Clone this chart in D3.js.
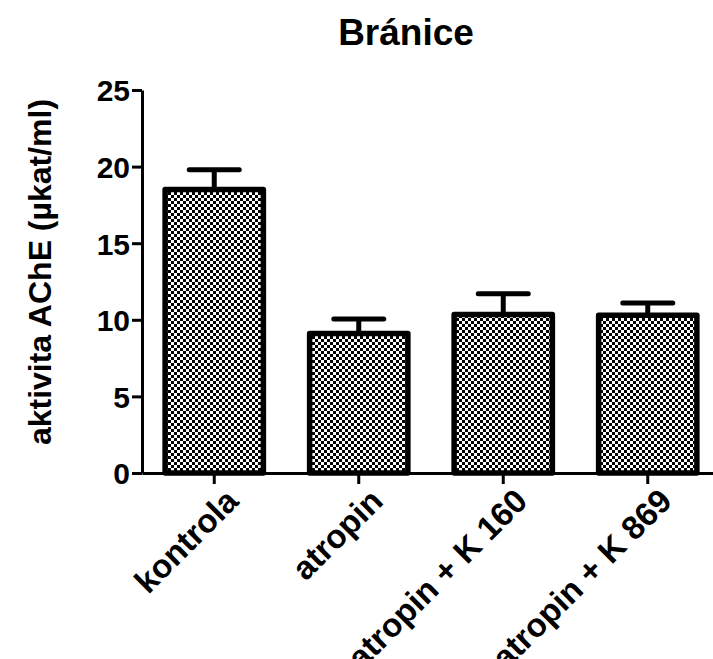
<!DOCTYPE html>
<html>
<head>
<meta charset="utf-8">
<script src="https://cdn.jsdelivr.net/npm/d3@7"></script>
<style>
  html, body { margin: 0; padding: 0; background: #fff; }
  svg { display: block; }
  text { font-family: "Liberation Sans", Arial, sans-serif; font-weight: bold; fill: #000; }
</style>
</head>
<body>
<script>
const categories = ["kontrola", "atropin", "atropin + K 160", "atropin + K 869"];
const means = [18.5, 9.1, 10.35, 10.3];
const errUp = [1.3, 0.95, 1.35, 0.8];
const yTicks = [0, 5, 10, 15, 20, 25];
const title = "Bránice";
const yTitle = "aktivita AChE (\u00B5kat/ml)";

const W = 713, H = 659;
const svg = d3.select("body").append("svg").attr("width", W).attr("height", H);

const defs = svg.append("defs");
const pat = defs.append("pattern").attr("id", "checker")
  .attr("patternUnits", "userSpaceOnUse").attr("width", 6).attr("height", 6);
pat.append("rect").attr("width", 6).attr("height", 6).attr("fill", "#fff");
pat.append("rect").attr("x", 0).attr("y", 0).attr("width", 3).attr("height", 3).attr("fill", "#000");
pat.append("rect").attr("x", 3).attr("y", 3).attr("width", 3).attr("height", 3).attr("fill", "#000");

const y = d3.scaleLinear().domain([0, 25]).range([473, 90]);
const x = d3.scaleBand().domain(categories).range([142, 720]).paddingInner(0.32).paddingOuter(0.16);

// title
svg.append("text").attr("x", 406).attr("y", 45).attr("text-anchor", "middle")
  .style("font-size", "37px").text(title);

// y title
svg.append("text").attr("transform", "translate(51,272) rotate(-90)")
  .attr("text-anchor", "middle").style("font-size", "32px").text(yTitle);

const data = categories.map((c, i) => ({ c, m: means[i], e: errUp[i] }));

// error bars
const eg = svg.append("g");
eg.selectAll("line.v").data(data).join("line")
  .attr("x1", d => x(d.c) + x.bandwidth() / 2).attr("x2", d => x(d.c) + x.bandwidth() / 2)
  .attr("y1", d => y(d.m)).attr("y2", d => y(d.m + d.e))
  .attr("stroke", "#000").attr("stroke-width", 5);
eg.selectAll("line.h").data(data).join("line")
  .attr("x1", d => x(d.c) + x.bandwidth() / 2 - 25).attr("x2", d => x(d.c) + x.bandwidth() / 2 + 25)
  .attr("y1", d => y(d.m + d.e)).attr("y2", d => y(d.m + d.e))
  .attr("stroke", "#000").attr("stroke-width", 5).attr("stroke-linecap", "round");

// bars
svg.append("g").selectAll("rect").data(data).join("rect")
  .attr("x", d => x(d.c)).attr("width", x.bandwidth())
  .attr("y", d => y(d.m)).attr("height", d => y(0) - y(d.m))
  .attr("fill", "url(#checker)").attr("stroke", "#000").attr("stroke-width", 5.5)
  .attr("stroke-linejoin", "round");

// y axis
const ya = svg.append("g").attr("transform", "translate(142,0)")
  .call(d3.axisLeft(y).tickValues(yTicks).tickSize(10).tickSizeOuter(0).tickPadding(2));
ya.select(".domain").attr("stroke-width", 3);
ya.selectAll(".tick line").attr("stroke-width", 3);
ya.selectAll(".tick text").style("font-size", "30px").style("font-family", "Liberation Sans, Arial, sans-serif")
  .style("font-weight", "bold").attr("dy", "0.36em");

// x axis
const xa = svg.append("g").attr("transform", "translate(0,473)")
  .call(d3.axisBottom(x).tickSize(11).tickSizeOuter(0).tickPadding(2));
xa.select(".domain").attr("stroke-width", 3);
xa.selectAll(".tick line").attr("stroke-width", 3);
xa.selectAll(".tick text").style("font-size", "33px").style("font-family", "Liberation Sans, Arial, sans-serif")
  .style("font-weight", "bold")
  .attr("text-anchor", "end").attr("dy", "0").attr("y", 0)
  .attr("transform", "translate(26,30) rotate(-45)");
</script>
</body>
</html>
